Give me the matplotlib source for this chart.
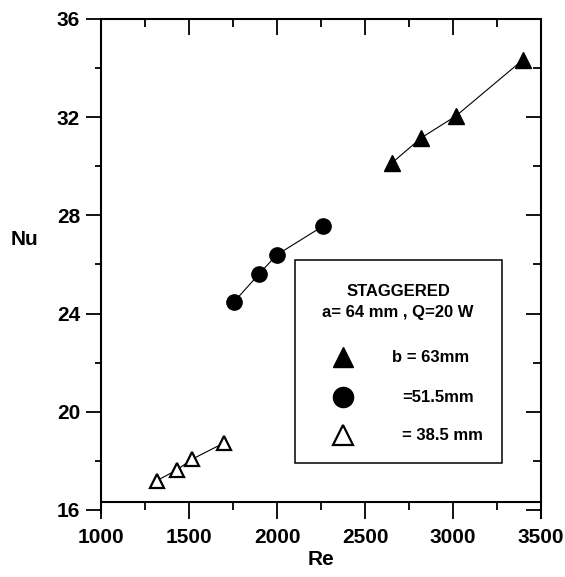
import matplotlib
matplotlib.use("Agg")
import matplotlib.pyplot as plt
from matplotlib.patches import Rectangle
from matplotlib.ticker import MultipleLocator

plt.rcParams['font.family'] = ['Liberation Sans', 'DejaVu Sans']
plt.rcParams['font.weight'] = 'bold'

# b = 63 mm (filled triangles)
re_63 = [2652, 2818, 3017, 3396]
nu_63 = [30.13, 31.15, 32.05, 34.33]

# b = 51.5 mm (filled circles)
re_515 = [1757, 1898, 1998, 2263]
nu_515 = [24.49, 25.61, 26.39, 27.57]

# b = 38.5 mm (open triangles)
re_385 = [1316, 1430, 1515, 1701]
nu_385 = [17.19, 17.63, 18.06, 18.74]

legend_title = ["STAGGERED", "a= 64 mm , Q=20 W"]
legend_labels = ["b = 63mm", "=51.5mm", "= 38.5 mm"]

fig = plt.figure(figsize=(5.65, 5.77), dpi=100)
ax = fig.add_axes([0.1788, 0.0991, 0.7787, 0.868])

ax.plot(re_63, nu_63, color='black', lw=0.8, marker='^', ms=11,
        mfc='black', mec='black')
ax.plot(re_515, nu_515, color='black', lw=0.8, marker='o', ms=11,
        mfc='black', mec='black')
ax.plot(re_385, nu_385, color='black', lw=0.8, marker='^', ms=10,
        mfc='white', mec='black', mew=1.6)

ax.set_xlim(1000, 3500)
ax.xaxis.set_major_locator(MultipleLocator(500))
ax.xaxis.set_minor_locator(MultipleLocator(250))
ax.set_yticks([16, 20, 24, 28, 32, 36])
ax.yaxis.set_minor_locator(MultipleLocator(2))
ax.set_ylim(15.6, 36)

ax.spines['top'].set_visible(False)
ax.spines['right'].set_visible(False)
ax.spines['bottom'].set_position(('data', 16.33))
ax.spines['left'].set_bounds(15.88, 36)
for s in ['bottom', 'left']:
    ax.spines[s].set_linewidth(1.5)

ax.tick_params(axis='x', which='major', direction='out', length=12, width=1.3,
               labelsize=15, pad=7)
ax.tick_params(axis='x', which='minor', direction='out', length=6, width=1.3)
ax.tick_params(axis='y', which='major', direction='out', length=11, width=1.3,
               labelsize=15, pad=4)
ax.tick_params(axis='y', which='minor', direction='out', length=4.5, width=1.3)

top = ax.secondary_xaxis('top')
top.xaxis.set_major_locator(MultipleLocator(500))
top.xaxis.set_minor_locator(MultipleLocator(250))
top.tick_params(axis='x', which='major', direction='in', length=11.5, width=1.3,
                labeltop=False)
top.tick_params(axis='x', which='minor', direction='in', length=6, width=1.3)
top.spines['top'].set_linewidth(1.5)

right = ax.secondary_yaxis('right')
right.set_yticks([16, 20, 24, 28, 32, 36])
right.yaxis.set_minor_locator(MultipleLocator(2))
right.tick_params(axis='y', which='major', direction='in', length=11, width=1.3,
                  labelright=False)
right.tick_params(axis='y', which='minor', direction='in', length=6, width=1.3)
right.spines['right'].set_bounds(15.67, 36)
right.spines['right'].set_linewidth(1.5)

ax.set_xlabel("Re", fontsize=15, fontweight='bold', labelpad=2)
ax.set_ylabel("Nu", fontsize=15, fontweight='bold', rotation=0,
              ha='center', va='center')
ax.yaxis.set_label_coords(-0.173, 0.559)

# legend box
ax.add_patch(Rectangle((0.441, 0.1134), 0.47, 0.4056, transform=ax.transAxes,
                       fill=False, edgecolor='black', lw=1.1))
ax.text(0.675, 0.455, legend_title[0], transform=ax.transAxes, fontsize=12,
        ha='center', va='center')
ax.text(0.675, 0.413, legend_title[1], transform=ax.transAxes, fontsize=12,
        ha='center', va='center')

ax.plot([0.55], [0.325], transform=ax.transAxes, marker='^', ms=15,
        color='black', clip_on=False)
ax.plot([0.55], [0.245], transform=ax.transAxes, marker='o', ms=14.5,
        color='black', clip_on=False)
ax.plot([0.55], [0.169], transform=ax.transAxes, marker='^', ms=14.5,
        mfc='white', mec='black', mew=1.6, clip_on=False)

ax.text(0.661, 0.325, legend_labels[0], transform=ax.transAxes, fontsize=12,
        ha='left', va='center')
ax.text(0.684, 0.245, legend_labels[1], transform=ax.transAxes, fontsize=12,
        ha='left', va='center')
ax.text(0.684, 0.169, legend_labels[2], transform=ax.transAxes, fontsize=12,
        ha='left', va='center')

fig.savefig('out.png', dpi=100)
